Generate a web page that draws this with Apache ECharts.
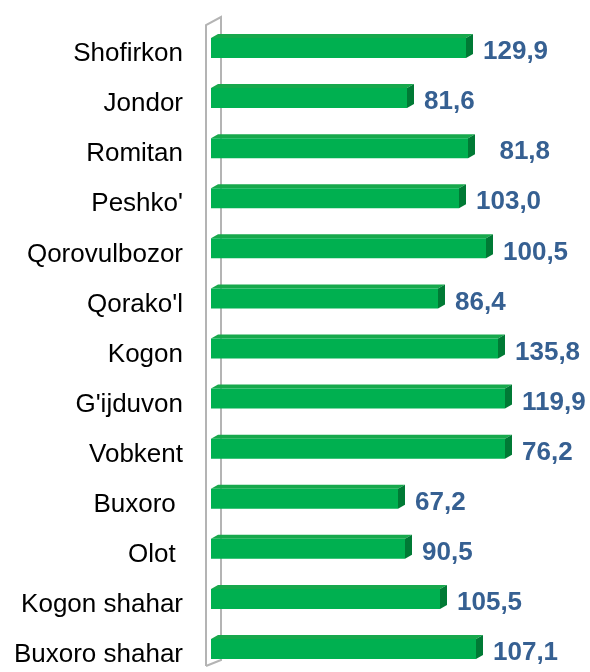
<!DOCTYPE html>
<html>
<head>
<meta charset="utf-8">
<script src="https://cdn.jsdelivr.net/npm/echarts@6/dist/echarts.min.js"></script>
<style>
  html, body { margin: 0; padding: 0; background: #fff; }
  #chart { width: 590px; height: 672px; }
</style>
</head>
<body>
<div id="chart"></div>
<script>
// districts, top to bottom
const districts = ['Shofirkon', 'Jondor', 'Romitan', "Peshko'", 'Qorovulbozor', "Qorako'l",
  'Kogon', "G'ijduvon", 'Vobkent', 'Buxoro ', 'Olot ', 'Kogon shahar', 'Buxoro shahar'];
// printed values (as shown on the labels)
const valueLabels = ['129,9', '81,6', '  81,8', '103,0', '100,5', '86,4',
  '135,8', '119,9', '76,2', '67,2', '90,5', '105,5', '107,1'];
// bar lengths as drawn in the picture (they don't follow the printed values)
const barLengths = [127.5, 98, 128.5, 124, 137.5, 113.5, 143.5, 147, 147, 93.5, 97, 114.5, 132.5];

const chart = echarts.init(document.getElementById('chart'));

function renderBar(params, api) {
  const idx = api.value(1);
  const p0 = api.coord([0, idx]);
  const p1 = api.coord([api.value(0), idx]);
  const h = 20, dx = 7, dy = 4;
  const x0 = p0[0], x1 = p1[0];
  const y0 = p0[1] - h / 2 + 2;
  return {
    type: 'group',
    children: [
      {
        type: 'polygon',
        shape: { points: [[x0, y0], [x0 + dx, y0 - dy], [x1 + dx, y0 - dy], [x1, y0]] },
        style: { fill: '#17A84C' }
      },
      {
        type: 'polygon',
        shape: { points: [[x1, y0], [x1 + dx, y0 - dy], [x1 + dx, y0 + h - dy], [x1, y0 + h]] },
        style: { fill: '#007A35' }
      },
      {
        type: 'rect',
        shape: { x: x0, y: y0, width: x1 - x0, height: h },
        style: { fill: '#00B050' }
      },
      {
        type: 'text',
        x: x1 + dx + 10,
        y: y0 + h / 2 + 4,
        style: {
          text: valueLabels[idx],
          fill: '#366092',
          font: 'bold 26px "Liberation Sans", Arial, sans-serif',
          verticalAlign: 'middle',
          align: 'left'
        }
      }
    ]
  };
}

chart.setOption({
  animation: false,
  grid: { left: 211, right: 79, top: 21, bottom: -2 },
  xAxis: {
    type: 'value',
    min: 0,
    max: 150,
    show: false
  },
  yAxis: {
    type: 'category',
    inverse: true,
    data: districts,
    axisLine: { show: false },
    axisTick: { show: false },
    axisLabel: {
      margin: 28,
      formatter: v => '{n|' + v + '}',
      rich: {
        n: {
          color: '#000',
          fontSize: 26,
          fontFamily: '"Liberation Sans", Arial, sans-serif',
          padding: [16, 0, 0, 0]
        }
      }
    }
  },
  graphic: [
    {
      type: 'polyline',
      z: 0,
      shape: { points: [[206, 666], [206, 25], [221, 17], [221, 660], [206, 666]] },
      style: { stroke: '#B4B4B4', lineWidth: 2, fill: null }
    }
  ],
  series: [{
    type: 'custom',
    z: 5,
    renderItem: renderBar,
    encode: { x: 0, y: 1 },
    data: barLengths.map((v, i) => [v, i])
  }]
});
</script>
</body>
</html>
